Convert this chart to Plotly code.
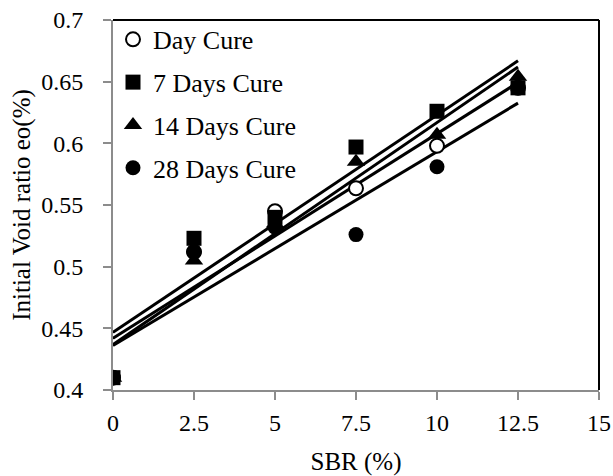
import numpy as np
import plotly.graph_objects as go

# SBR content (%)
sbr = [0, 2.5, 5, 7.5, 10, 12.5]

# Initial void ratio for each curing period
day_cure = [0.41, 0.512, 0.545, 0.5635, 0.598, 0.645]
days7_cure = [0.41, 0.523, 0.540, 0.597, 0.626, 0.645]
days14_cure = [0.41, 0.505, 0.535, 0.585, 0.607, 0.654]
days28_cure = [0.41, 0.512, 0.532, 0.526, 0.581, 0.645]

series_names = ["Day Cure", "7 Days Cure", "14 Days Cure", "28 Days Cure"]
series_values = [day_cure, days7_cure, days14_cure, days28_cure]
series_symbols = ["circle-open", "square", "triangle-up", "circle"]
series_sizes = [14, 15, 16, 15]

x_ticks = [0, 2.5, 5, 7.5, 10, 12.5, 15]
y_ticks = [0.4, 0.45, 0.5, 0.55, 0.6, 0.65, 0.7]

FONT = "Liberation Serif"
AXIS_GREY = "#8c8c8c"

fig = go.Figure()

x_arr = np.array(sbr, dtype=float)

# Linear trend line for every series (drawn beneath the markers)
for name, vals in zip(series_names, series_values):
    slope, intercept = np.polyfit(x_arr, np.array(vals), 1)
    x_fit = np.array([x_arr.min(), x_arr.max()])
    fig.add_trace(go.Scatter(
        x=x_fit, y=slope * x_fit + intercept,
        mode="lines", line=dict(color="black", width=3),
        showlegend=False, hoverinfo="skip",
    ))

for i, (name, vals, sym, sz) in enumerate(zip(series_names, series_values,
                                              series_symbols, series_sizes)):
    marker = dict(symbol=sym, size=sz, color="black")
    if sym == "circle-open":
        marker = dict(symbol="circle", size=sz, color="white",
                      line=dict(color="black", width=2))
    fig.add_trace(go.Scatter(
        x=sbr, y=vals, mode="markers", name=name,
        marker=marker, legendgroup=f"g{i}",
    ))

fig.update_layout(
    width=613, height=476,
    margin=dict(l=113, r=14, t=20, b=86),
    paper_bgcolor="white", plot_bgcolor="white",
    font=dict(family=FONT, color="black", size=24),
    showlegend=True,
    legend=dict(
        x=0.0, y=1.011, xanchor="left", yanchor="top",
        bgcolor="rgba(0,0,0,0)", font=dict(family=FONT, size=26),
        tracegroupgap=6, itemwidth=30,
    ),
    xaxis=dict(
        range=[0, 15], tickvals=x_ticks, ticktext=[str(v) for v in x_ticks],
        showgrid=False, zeroline=False, automargin=False,
        showline=True, linecolor=AXIS_GREY, linewidth=2,
        ticks="outside", ticklen=8, tickcolor=AXIS_GREY, tickwidth=2,
        tickfont=dict(family=FONT, size=24), ticklabelstandoff=2,
        title=dict(text="SBR (%)", font=dict(family=FONT, size=25), standoff=22),
    ),
    yaxis=dict(
        range=[0.4, 0.7], tickvals=y_ticks, ticktext=[f"{v:g}" for v in y_ticks],
        showgrid=False, zeroline=False, automargin=False,
        showline=True, linecolor=AXIS_GREY, linewidth=2,
        ticks="outside", ticklen=8, tickcolor=AXIS_GREY, tickwidth=2,
        tickfont=dict(family=FONT, size=24), ticklabelstandoff=15,
        title=dict(text="Initial Void ratio eo(%)", font=dict(family=FONT, size=25),
                   standoff=3),
    ),
    shapes=[
        dict(type="line", xref="paper", yref="paper", x0=0, x1=1, y0=1, y1=1,
             line=dict(color="black", width=2)),
        dict(type="line", xref="paper", yref="paper", x0=1, x1=1, y0=0, y1=1,
             line=dict(color="black", width=2)),
    ],
)

fig.write_html("out.html")
